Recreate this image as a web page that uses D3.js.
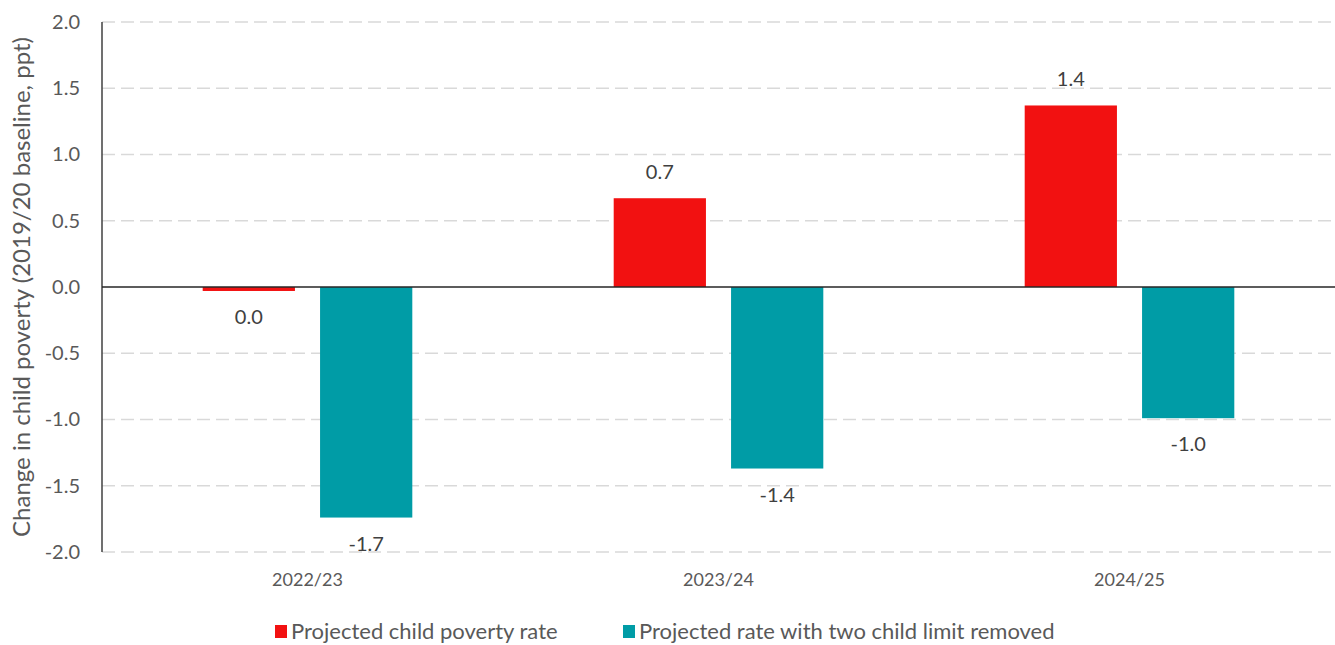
<!DOCTYPE html>
<html>
<head>
<meta charset="utf-8">
<script src="https://cdn.jsdelivr.net/npm/d3@7"></script>
<style>
  body { margin: 0; background: #fff; }
  text { font-family: Lato, "Open Sans", sans-serif; }
</style>
</head>
<body>
<main></main>
<script>
var categories = ['2022/23', '2023/24', '2024/25'];
var seriesNames = ['Projected child poverty rate', 'Projected rate with two child limit removed'];
var povertyRate = [-0.03, 0.67, 1.37];
var limitRemoved = [-1.74, -1.37, -0.99];
var yTicks = [-2.0, -1.5, -1.0, -0.5, 0.0, 0.5, 1.0, 1.5, 2.0];
var colors = ['#f21111', '#009ca6'];

var width = 1335;
var height = 645;
var plotLeft = 102, plotRight = 1335, plotTop = 22, plotBottom = 552;

var svg = d3.select('main').append('svg')
  .attr('width', width)
  .attr('height', height);

var y = d3.scaleLinear().domain([-2, 2]).range([plotBottom, plotTop]);
var x0 = d3.scaleBand().domain(categories).range([plotLeft, plotRight])
  .paddingInner(0.49).paddingOuter(0.245);
var x1 = d3.scaleBand().domain([0, 1]).range([0, x0.bandwidth()])
  .paddingInner(0.214).paddingOuter(0);

function fmt(v) {
  var s = v.toFixed(1);
  return s === '-0.0' ? '0.0' : s;
}

// gridlines
svg.append('g')
  .selectAll('line')
  .data(yTicks.filter(function(d) { return d !== 0; }))
  .enter().append('line')
  .attr('x1', plotLeft)
  .attr('x2', plotRight)
  .attr('y1', function(d) { return y(d); })
  .attr('y2', function(d) { return y(d); })
  .attr('stroke', '#d9d9d9')
  .attr('stroke-width', 1.5)
  .attr('stroke-dasharray', '13,6');

// y tick labels
var yAxis = d3.axisLeft(y).tickValues(yTicks).tickFormat(function(d) { return d.toFixed(1); }).tickSize(0).tickPadding(22);
var yg = svg.append('g').attr('transform', 'translate(' + plotLeft + ',0)').call(yAxis);
yg.select('.domain').remove();
yg.selectAll('text')
  .attr('fill', '#595959')
  .style('font-size', '20px')
  .style('font-family', 'Lato, sans-serif');

// y axis title
svg.append('text')
  .attr('transform', 'translate(22,' + ((plotTop + plotBottom) / 2) + ') rotate(-90)')
  .attr('text-anchor', 'middle')
  .attr('dy', '0.35em')
  .attr('fill', '#595959')
  .style('font-size', '24px')
  .text('Change in child poverty (2019/20 baseline, ppt)');

// bars
var rows = categories.map(function(c, i) {
  return { cat: c, vals: [povertyRate[i], limitRemoved[i]] };
});

var groups = svg.append('g').selectAll('g')
  .data(rows)
  .enter().append('g')
  .attr('transform', function(d) { return 'translate(' + x0(d.cat) + ',0)'; });

groups.selectAll('rect')
  .data(function(d) { return d.vals.map(function(v, j) { return { v: v, s: j }; }); })
  .enter().append('rect')
  .attr('x', function(d) { return x1(d.s); })
  .attr('width', x1.bandwidth())
  .attr('y', function(d) { return y(Math.max(0, d.v)); })
  .attr('height', function(d) { return Math.abs(y(d.v) - y(0)); })
  .attr('fill', function(d) { return colors[d.s]; });

groups.selectAll('text')
  .data(function(d) { return d.vals.map(function(v, j) { return { v: v, s: j }; }); })
  .enter().append('text')
  .attr('x', function(d) { return x1(d.s) + x1.bandwidth() / 2; })
  .attr('y', function(d) { return d.v >= 0 ? y(d.v) - 26 : y(d.v) + 26; })
  .attr('dy', '0.35em')
  .attr('text-anchor', 'middle')
  .attr('fill', '#404040')
  .style('font-size', '20px')
  .text(function(d) { return fmt(d.v); });

// y axis line and zero line
svg.append('line')
  .attr('x1', plotLeft).attr('x2', plotLeft)
  .attr('y1', plotTop).attr('y2', plotBottom)
  .attr('stroke', '#404040').attr('stroke-width', 1.5);
svg.append('line')
  .attr('x1', plotLeft).attr('x2', plotRight)
  .attr('y1', y(0)).attr('y2', y(0))
  .attr('stroke', '#262626').attr('stroke-width', 1.5);

// category labels
svg.append('g').selectAll('text')
  .data(categories)
  .enter().append('text')
  .attr('x', function(d) { return x0(d) + x0.bandwidth() / 2; })
  .attr('y', 580)
  .attr('dy', '0.35em')
  .attr('text-anchor', 'middle')
  .attr('fill', '#595959')
  .style('font-size', '18px')
  .text(function(d) { return d; });

// legend
var legendX = [275, 623];
var legend = svg.append('g').selectAll('g')
  .data(seriesNames)
  .enter().append('g')
  .attr('transform', function(d, i) { return 'translate(' + legendX[i] + ',631)'; });
legend.append('rect')
  .attr('x', 0).attr('y', -6)
  .attr('width', 12).attr('height', 13)
  .attr('fill', function(d, i) { return colors[i]; });
legend.append('text')
  .attr('x', 16)
  .attr('dy', '0.35em')
  .attr('fill', '#595959')
  .style('font-size', '22px')
  .text(function(d) { return d; });
</script>
</body>
</html>
